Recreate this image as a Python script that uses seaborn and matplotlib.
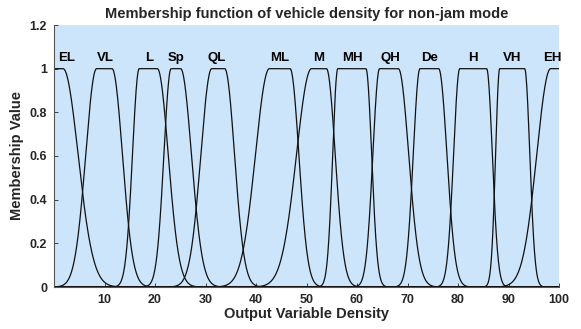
import numpy as np
import pandas as pd
import matplotlib
matplotlib.use("Agg")
import matplotlib.pyplot as plt
import seaborn as sns

# Membership-function data (two-sided Gaussian with flat top: sigma1, c1, sigma2, c2)
names   = ["EL", "VL", "L", "Sp", "QL", "ML", "M", "MH", "QH", "De", "H", "VH", "EH"]
sigma1  = [1.0, 2.15, 1.33, 1.43, 2.15, 2.76, 2.97, 1.02, 1.33, 1.33, 1.23, 0.82, 2.76]
c1      = [-50.0, 8.43, 16.87, 23.19, 31.23, 42.65, 50.99, 56.2, 64.47, 72.47, 80.35, 88.26, 98.35]
sigma2  = [2.97, 2.05, 2.15, 2.15, 1.94, 1.74, 1.74, 1.13, 2.05, 1.64, 1.13, 1.02, 1.0]
c2      = [1.8, 11.5, 20.47, 25.07, 33.81, 46.75, 53.95, 61.77, 68.19, 76.17, 85.67, 93.2, 150.0]
label_x = [2.5, 10.1, 18.8, 24.2, 32.3, 44.6, 52.4, 59.0, 66.6, 74.4, 83.0, 90.8, 98.6]
label_y = 1.05

xticks = [10, 20, 30, 40, 50, 60, 70, 80, 90, 100]
yticks = [0, 0.2, 0.4, 0.6, 0.8, 1.0, 1.2]
yticklabels = ["0", "0.2", "0.4", "0.6", "0.8", "1", "1.2"]


def gauss2mf(x, s1, a, s2, b):
    y = np.ones_like(x)
    left = x < a
    right = x > b
    y[left] = np.exp(-((x[left] - a) ** 2) / (2 * s1 ** 2))
    y[right] = np.exp(-((x[right] - b) ** 2) / (2 * s2 ** 2))
    return y


xs = np.linspace(0, 100, 2001)
frames = []
for n, s1, a, s2, b in zip(names, sigma1, c1, sigma2, c2):
    frames.append(pd.DataFrame({"x": xs, "mu": gauss2mf(xs, s1, a, s2, b), "set": n}))
df = pd.concat(frames, ignore_index=True)

sns.set_theme(style="ticks")
plt.rcParams["font.family"] = ["Liberation Sans", "DejaVu Sans"]
plt.rcParams["font.weight"] = "bold"

fig = plt.figure(figsize=(5.81, 3.29), dpi=100)
ax = fig.add_axes([54 / 581, 1 - 287 / 329, (559 - 54) / 581, (287 - 25) / 329])
ax.set_facecolor("#cce5fb")

sns.lineplot(data=df, x="x", y="mu", hue="set", palette=["#111111"] * len(names),
             legend=False, ax=ax, linewidth=0.9, estimator=None, sort=False)

for n, lx in zip(names, label_x):
    ax.text(lx, label_y, n, ha="center", va="center", fontsize=9.5, fontweight="bold",
            color="black")

ax.set_xlim(0, 100)
ax.set_ylim(0, 1.2)
ax.set_xticks(xticks)
ax.set_xticklabels([str(t) for t in xticks])
ax.set_yticks(yticks)
ax.set_yticklabels(yticklabels)
ax.tick_params(direction="in", length=3, width=0.6, colors="#262626", labelsize=9, pad=5)
for lab in ax.get_xticklabels() + ax.get_yticklabels():
    lab.set_fontweight("bold")

for side in ["top", "right"]:
    ax.spines[side].set_visible(False)
for side in ["left", "bottom"]:
    ax.spines[side].set_color("#555555")
    ax.spines[side].set_linewidth(0.8)

ax.set_xlabel("Output Variable Density", fontsize=10.5, fontweight="bold", labelpad=1)
ax.set_ylabel("Membership Value", fontsize=10.5, fontweight="bold", labelpad=4)
ax.set_title("Membership function of vehicle density for non-jam mode",
             fontsize=10.5, fontweight="bold", pad=5)

fig.savefig("out.png", dpi=100)
